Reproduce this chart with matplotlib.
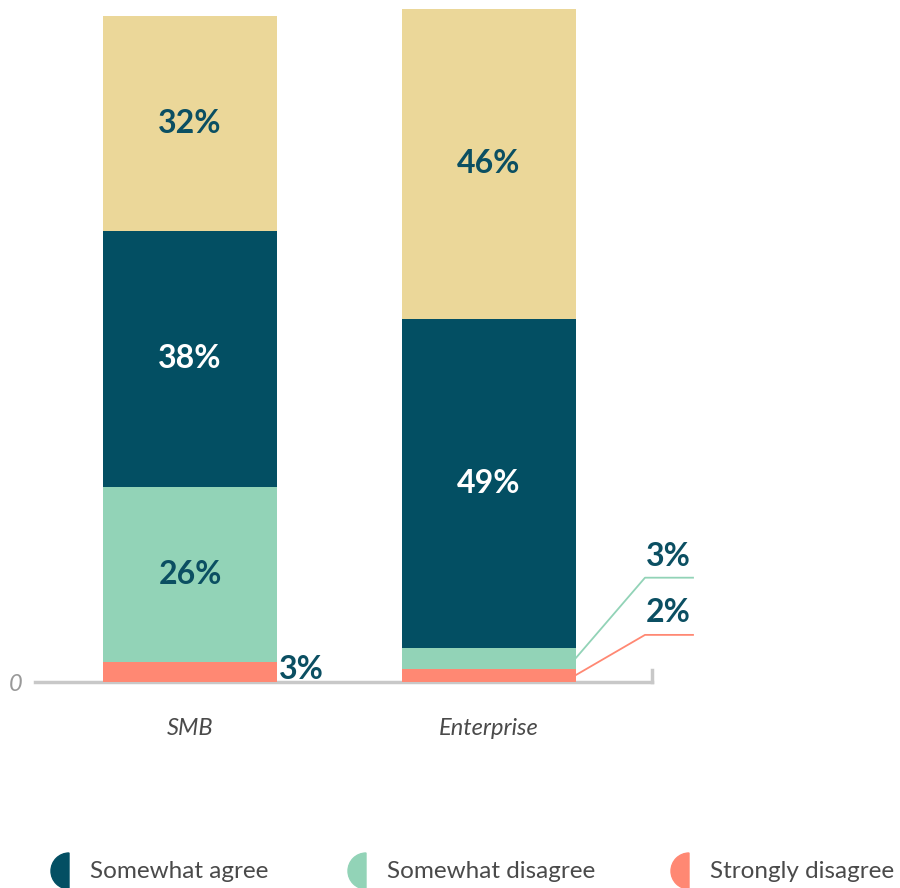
import matplotlib.pyplot as plt
from matplotlib.patches import Wedge

plt.rcParams['font.family'] = ['Lato', 'DejaVu Sans']

categories = ["SMB", "Enterprise"]
series_names = ["Strongly disagree", "Somewhat disagree", "Somewhat agree", "Strongly agree"]
strongly_disagree = [3, 2]
somewhat_disagree = [26, 3]
somewhat_agree = [38, 49]
strongly_agree = [32, 46]

colors = ["#ff8873", "#92d3b7", "#034f63", "#ebd799"]
dark = "#0b4f62"
grey_txt = "#4a4a4a"

fig = plt.figure(figsize=(9, 8.88), dpi=100)
# axes: x from 35px to 652px, baseline at 682px
ax = fig.add_axes([35 / 900, 206 / 888, 617 / 900, 682 / 888])
px_per_unit = 298.5
ax.set_xlim((35 - 190) / px_per_unit, (652 - 190) / px_per_unit)
ax.set_ylim(0, 682 / 6.73)

xs = [0, 1]
width = 174 / px_per_unit
series = [strongly_disagree, somewhat_disagree, somewhat_agree, strongly_agree]
bottoms = [0, 0]
for vals, col in zip(series, colors):
    ax.bar(xs, vals, width=width, bottom=bottoms, color=col, zorder=2)
    bottoms = [b + v for b, v in zip(bottoms, vals)]

# labels inside segments
lab_size = 23
for i in range(2):
    b = strongly_disagree[i]
    b2 = b + somewhat_disagree[i]
    if i == 0:
        ax.text(xs[i], b + somewhat_disagree[i] / 2, f"{somewhat_disagree[i]}%", ha="center", va="center",
                color=dark, fontsize=lab_size, fontweight="bold")
    ax.text(xs[i], b2 + somewhat_agree[i] / 2, f"{somewhat_agree[i]}%", ha="center", va="center",
            color="white", fontsize=lab_size, fontweight="bold")
    b3 = b2 + somewhat_agree[i]
    ax.text(xs[i], b3 + strongly_agree[i] / 2, f"{strongly_agree[i]}%", ha="center", va="center",
            color=dark, fontsize=lab_size, fontweight="bold")

# SMB strongly disagree label outside
ax.text(xs[0] + width / 2 + 0.005, strongly_disagree[0] / 2 + 0.3, f"{strongly_disagree[0]}%", ha="left", va="center",
        color=dark, fontsize=lab_size, fontweight="bold")

# Enterprise small labels with leader lines
right = xs[1] + width / 2
ex = (645 - 190) / px_per_unit
ex2 = (693 - 190) / px_per_unit
mid_sd = strongly_disagree[1] + somewhat_disagree[1] / 2
ax.plot([right, ex, ex2], [mid_sd, 15.5, 15.5], color=colors[1], lw=1.3, clip_on=False)
ax.text((668 - 190) / px_per_unit, 18.6, f"{somewhat_disagree[1]}%", ha="center", va="center",
        color=dark, fontsize=lab_size, fontweight="bold")
mid_st = strongly_disagree[1] / 2
ax.plot([right, ex, ex2], [mid_st, 7.0, 7.0], color=colors[0], lw=1.3, clip_on=False)
ax.text((668 - 190) / px_per_unit, 10.4, f"{strongly_disagree[1]}%", ha="center", va="center",
        color=dark, fontsize=lab_size, fontweight="bold")

for s in ["top", "right", "left"]:
    ax.spines[s].set_visible(False)
ax.spines["bottom"].set_color("#c8c8c8")
ax.spines["bottom"].set_linewidth(2.5)
ax.spines["bottom"].set_zorder(1)
ax.plot([1, 1], [0, 12 / 6.73], transform=ax.get_yaxis_transform(), color="#c8c8c8", lw=2.5, clip_on=False)

ax.set_yticks([0])
ax.set_yticklabels(["0"], fontsize=17, style="italic", color="#999999")
ax.tick_params(axis="y", length=0, pad=9)
ax.set_xticks(xs)
ax.set_xticklabels(categories, fontsize=17, style="italic", color=grey_txt)
ax.tick_params(axis="x", length=0, pad=26)

# legend in figure pixel coords
ov = fig.add_axes([0, 0, 1, 1], zorder=5)
ov.set_xlim(0, 900)
ov.set_ylim(888, 0)
ov.axis("off")
legend_items = ["Somewhat agree", "Somewhat disagree", "Strongly disagree"]
legend_cols = [colors[2], colors[1], colors[0]]
legend_x = [69, 366, 689]
for name, col, lx in zip(legend_items, legend_cols, legend_x):
    ov.add_patch(Wedge((lx, 871), 18, 90, 270, color=col))
    ov.text(lx + 21, 871, name, ha="left", va="center", fontsize=17.5, color=grey_txt)

fig.savefig("out.png", dpi=100)
